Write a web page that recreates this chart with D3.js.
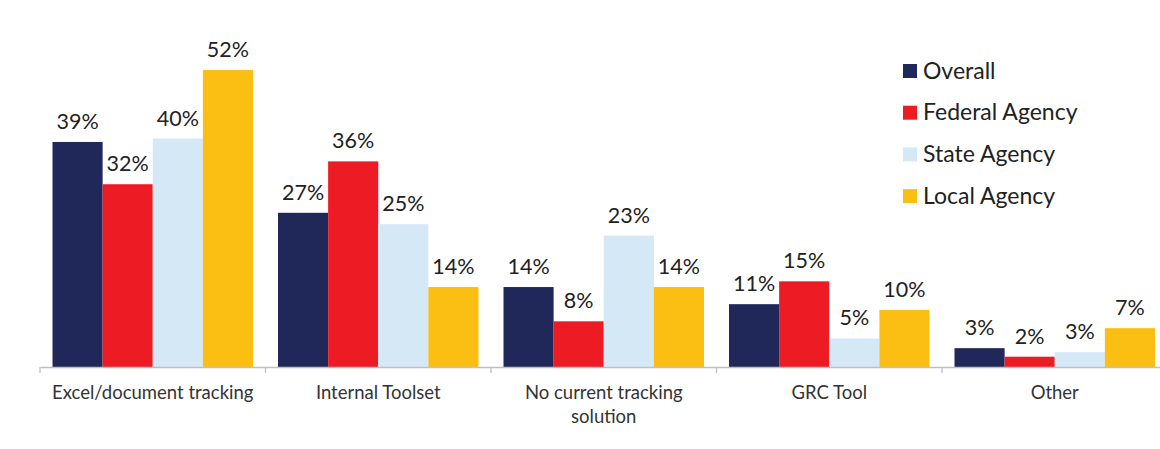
<!DOCTYPE html>
<html><head><meta charset="utf-8">
<script src="https://cdn.jsdelivr.net/npm/d3@7"></script>
<style>html,body{margin:0;padding:0;background:#fff;overflow:hidden}</style>
</head><body><svg id="c" width="1160" height="449"></svg>
<script>
const categories = ["Excel/document tracking", "Internal Toolset", "No current tracking solution", "GRC Tool", "Other"];
const seriesNames = ["Overall", "Federal Agency", "State Agency", "Local Agency"];
const overall = [39.4, 27, 14, 11, 3.3];
const federal = [32, 36, 8, 15, 1.8];
const state = [40, 25, 23, 5, 2.6];
const local = [52, 14, 14, 10, 6.8];
const colors = ["#1f2859", "#ed1c24", "#d4e8f6", "#fbbf14"];
const seriesValues = [overall, federal, state, local];

const svg = d3.select("#c");
const base = 367, W = 225.5, left = 40;
const x = d3.scaleBand().domain(categories).range([left, left + W * categories.length]).padding(0);
const xs = d3.scaleBand().domain(seriesNames).range([12.5, W - 12.5]).padding(0);
const y = d3.scaleLinear().domain([0, 52]).range([base, 70]);
const fmt = v => d3.format(".0f")(v) + "%";

const g = svg.append("g");
categories.forEach((c, ci) => {
  seriesNames.forEach((s, si) => {
    const v = seriesValues[si][ci];
    g.append("rect").attr("x", x(c) + xs(s)).attr("y", y(v))
      .attr("width", xs.bandwidth()).attr("height", base - y(v)).attr("fill", colors[si]);
    g.append("text").attr("x", x(c) + xs(s) + xs.bandwidth() / 2).attr("y", y(v) - 13)
      .attr("text-anchor", "middle").attr("font-family", "Lato, sans-serif").attr("font-size", 21.5)
      .attr("fill", "#222").text(fmt(v));
  });
});

const axis = svg.append("g").attr("transform", `translate(0,${base})`)
  .call(d3.axisBottom(x).tickSize(0).tickFormat(""));
axis.select(".domain").attr("stroke", "#bfbfbf").attr("stroke-width", 1.3);
const seps = categories.map(c => x(c)).concat([x(categories[categories.length - 1]) + W]);
svg.selectAll("line.sep").data(seps).join("line").attr("class", "sep")
  .attr("x1", d => d).attr("x2", d => d).attr("y1", base).attr("y2", base + 6)
  .attr("stroke", "#bfbfbf").attr("stroke-width", 1.3);

const wrapped = {"No current tracking solution": ["No current tracking", "solution"]};
categories.forEach(c => {
  const lines = wrapped[c] || [c];
  const t = svg.append("text").attr("text-anchor", "middle").attr("font-family", "Lato, sans-serif")
    .attr("font-size", 18.5).attr("fill", "#333");
  lines.forEach((l, i) => t.append("tspan").attr("x", x(c) + W / 2).attr("y", 399 + i * 24).text(l));
});

const leg = svg.append("g");
seriesNames.forEach((s, i) => {
  const cy = 71 + i * 41.7;
  leg.append("rect").attr("x", 903).attr("y", cy - 7).attr("width", 14).attr("height", 14).attr("fill", colors[i]);
  leg.append("text").attr("x", 923).attr("y", cy + 7.5).attr("font-family", "Lato, sans-serif")
    .attr("font-size", 23).attr("fill", "#222").text(s);
});
</script></body></html>
